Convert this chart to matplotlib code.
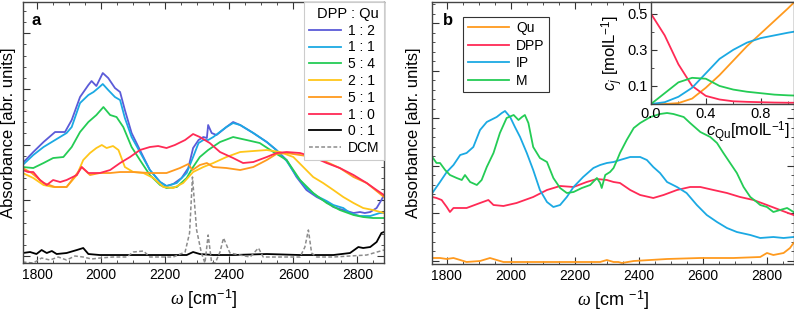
import matplotlib
matplotlib.use('Agg')
import matplotlib.pyplot as plt
import numpy as np
from matplotlib.ticker import MultipleLocator, FixedLocator, NullFormatter

plt.rcParams['font.family'] = ['Liberation Sans', 'DejaVu Sans']
plt.rcParams['mathtext.fontset'] = 'custom'
plt.rcParams['mathtext.rm'] = 'Liberation Sans'
plt.rcParams['mathtext.it'] = 'Liberation Serif:italic'
plt.rcParams['mathtext.sf'] = 'Liberation Sans:italic'

# ---- panel a: DPP : Qu mixtures (wavenumber, absorbance in arb. units) ----
w_12 = [1755, 1788, 1820, 1856, 1887, 1908, 1934, 1960, 1970, 1985, 2005, 2022, 2043, 2059, 2074, 2095, 2121,
        2152, 2184, 2204, 2225, 2251, 2272, 2287, 2304, 2319, 2330, 2334, 2345, 2360, 2391, 2412, 2434, 2475,
        2517, 2547, 2579, 2610, 2641, 2673, 2704, 2725, 2756, 2788, 2808, 2823, 2840, 2860, 2875, 2883]
a_12 = [1.00, 1.11, 1.21, 1.31, 1.31, 1.43, 1.66, 1.78, 1.82, 1.77, 1.90, 1.85, 1.75, 1.71, 1.53, 1.30, 1.13,
        0.93, 0.81, 0.77, 0.79, 0.85, 0.95, 1.15, 1.23, 1.26, 1.25, 1.38, 1.30, 1.28, 1.36, 1.41, 1.38, 1.30,
        1.21, 1.13, 1.03, 0.86, 0.73, 0.66, 0.61, 0.56, 0.53, 0.50, 0.51, 0.50, 0.51, 0.55, 0.63, 0.68]

w_11 = [1755, 1788, 1820, 1856, 1892, 1908, 1934, 1960, 1976, 1991, 2005, 2022, 2043, 2059, 2074, 2095, 2121,
        2152, 2184, 2204, 2236, 2267, 2287, 2304, 2319, 2334, 2350, 2391, 2412, 2434, 2475, 2517, 2547, 2579,
        2610, 2641, 2673, 2704, 2725, 2756, 2777, 2808, 2840, 2870, 2883]
a_11 = [0.98, 1.08, 1.16, 1.23, 1.30, 1.36, 1.60, 1.68, 1.71, 1.75, 1.79, 1.73, 1.66, 1.63, 1.45, 1.26, 1.11,
        0.93, 0.81, 0.77, 0.80, 0.90, 1.06, 1.20, 1.23, 1.23, 1.26, 1.36, 1.40, 1.38, 1.30, 1.21, 1.13, 1.02,
        0.87, 0.75, 0.67, 0.62, 0.58, 0.55, 0.50, 0.47, 0.47, 0.50, 0.50]

w_54 = [1755, 1788, 1820, 1850, 1882, 1908, 1934, 1960, 1985, 2007, 2028, 2048, 2069, 2095, 2121, 2152, 2184,
        2204, 2236, 2267, 2287, 2308, 2334, 2371, 2412, 2454, 2495, 2538, 2579, 2621, 2662, 2704, 2745, 2788,
        2818, 2849, 2883]
a_54 = [0.96, 0.95, 1.00, 1.05, 1.06, 1.16, 1.31, 1.41, 1.48, 1.56, 1.48, 1.46, 1.36, 1.16, 1.03, 0.88, 0.78,
        0.75, 0.76, 0.85, 0.96, 1.06, 1.13, 1.21, 1.26, 1.23, 1.20, 1.11, 1.03, 0.83, 0.70, 0.60, 0.53, 0.48,
        0.46, 0.45, 0.45]

w_21 = [1755, 1788, 1820, 1850, 1892, 1924, 1944, 1965, 1985, 2002, 2017, 2037, 2054, 2074, 2100, 2132, 2163,
        2194, 2225, 2256, 2287, 2319, 2350, 2391, 2434, 2475, 2517, 2558, 2600, 2631, 2662, 2693, 2725, 2756,
        2788, 2818, 2849, 2883]
a_21 = [0.90, 0.85, 0.78, 0.76, 0.76, 0.88, 1.03, 1.10, 1.15, 1.18, 1.15, 1.17, 1.13, 0.96, 0.91, 0.90, 0.85,
        0.76, 0.75, 0.80, 0.91, 0.96, 1.00, 1.06, 1.11, 1.12, 1.13, 1.11, 1.06, 0.96, 0.86, 0.80, 0.73, 0.66,
        0.60, 0.55, 0.53, 0.50]

w_51 = [1755, 1783, 1820, 1856, 1892, 1928, 1939, 1965, 1996, 2028, 2059, 2100, 2152, 2204, 2246, 2272, 2285,
        2308, 2330, 2350, 2391, 2434, 2475, 2517, 2547, 2579, 2621, 2662, 2704, 2745, 2788, 2829, 2883]
a_51 = [0.95, 0.90, 0.80, 0.76, 0.76, 0.91, 0.96, 0.88, 0.90, 0.90, 0.91, 0.91, 0.90, 0.90, 0.95, 0.99, 0.93,
        0.98, 1.00, 0.96, 0.95, 0.93, 0.96, 1.03, 1.09, 1.10, 1.08, 1.06, 1.01, 0.95, 0.86, 0.80, 0.66]

w_10 = [1755, 1772, 1788, 1809, 1830, 1850, 1872, 1892, 1924, 1939, 1960, 1996, 2028, 2059, 2090, 2121, 2152,
        2178, 2204, 2230, 2262, 2287, 2308, 2339, 2371, 2412, 2443, 2475, 2517, 2547, 2579, 2621, 2662, 2704,
        2745, 2788, 2829, 2860, 2883]
a_10 = [0.93, 0.91, 0.91, 0.83, 0.78, 0.83, 0.81, 0.83, 0.88, 0.96, 0.90, 0.90, 0.93, 1.00, 1.06, 1.13, 1.16,
        1.17, 1.15, 1.18, 1.23, 1.29, 1.26, 1.20, 1.11, 1.05, 1.00, 1.01, 1.06, 1.10, 1.11, 1.10, 1.06, 1.00,
        0.95, 0.88, 0.80, 0.73, 0.68]

w_01 = [1755, 1778, 1798, 1814, 1830, 1846, 1861, 1892, 1924, 1944, 1960, 1996, 2100, 2204, 2267, 2287, 2308,
        2350, 2412, 2517, 2621, 2725, 2777, 2803, 2818, 2840, 2860, 2875, 2883]
a_01 = [0.10, 0.11, 0.09, 0.13, 0.10, 0.12, 0.09, 0.10, 0.13, 0.15, 0.09, 0.08, 0.08, 0.08, 0.08, 0.11, 0.09,
        0.08, 0.08, 0.09, 0.08, 0.08, 0.10, 0.16, 0.15, 0.16, 0.21, 0.30, 0.31]

w_dcm = [1755, 1788, 1814, 1840, 1866, 1892, 1918, 1944, 1970, 1996, 2037, 2080, 2100, 2132, 2152, 2225, 2262,
         2276, 2285, 2298, 2313, 2324, 2334, 2345, 2356, 2371, 2382, 2402, 2465, 2491, 2506, 2621, 2636, 2647,
         2657, 2673, 2725, 2829, 2883]
a_dcm = [0.01, 0.00, 0.05, 0.03, 0.06, 0.03, 0.07, 0.06, 0.04, 0.05, 0.06, 0.06, 0.11, 0.12, 0.06, 0.06, 0.11,
         0.30, 0.86, 0.33, 0.10, 0.00, 0.28, 0.00, 0.00, 0.11, 0.25, 0.10, 0.06, 0.15, 0.06, 0.06, 0.16, 0.33,
         0.10, 0.06, 0.06, 0.08, 0.13]

# ---- panel b: decomposed component spectra ----
w_qu = [1755, 1779, 1800, 1821, 1842, 1862, 1904, 1935, 1956, 1977, 2070, 2175, 2279, 2300, 2321, 2336, 2347,
        2384, 2488, 2592, 2696, 2779, 2800, 2820, 2852, 2872, 2883]
a_qu = [0.06, 0.06, 0.05, 0.06, 0.04, 0.02, 0.03, 0.06, 0.04, 0.02, 0.02, 0.02, 0.02, 0.04, 0.02, 0.02, 0.01,
        0.03, 0.05, 0.06, 0.06, 0.07, 0.11, 0.09, 0.11, 0.16, 0.21]

w_dpp = [1755, 1768, 1784, 1800, 1810, 1821, 1842, 1862, 1904, 1930, 1946, 1977, 2018, 2070, 2113, 2154, 2196,
         2237, 2269, 2300, 2321, 2341, 2373, 2404, 2445, 2477, 2519, 2560, 2592, 2633, 2675, 2716, 2758, 2800,
         2841, 2883]
a_dpp = [0.67, 0.66, 0.64, 0.57, 0.52, 0.56, 0.56, 0.56, 0.61, 0.64, 0.59, 0.58, 0.61, 0.67, 0.74, 0.78, 0.77,
         0.82, 0.85, 0.84, 0.82, 0.81, 0.74, 0.69, 0.66, 0.69, 0.74, 0.77, 0.77, 0.74, 0.71, 0.67, 0.64, 0.59,
         0.54, 0.49]

w_ip = [1755, 1779, 1800, 1821, 1842, 1862, 1883, 1904, 1925, 1956, 1972, 1982, 1998, 2013, 2029, 2050, 2070,
        2091, 2113, 2133, 2154, 2175, 2196, 2226, 2258, 2279, 2300, 2321, 2341, 2373, 2404, 2425, 2445, 2466,
        2488, 2519, 2549, 2581, 2612, 2644, 2675, 2706, 2748, 2779, 2820, 2852, 2883]
a_ip = [0.71, 0.82, 0.92, 0.99, 1.09, 1.11, 1.17, 1.34, 1.42, 1.47, 1.51, 1.53, 1.47, 1.37, 1.27, 1.11, 0.94,
        0.74, 0.62, 0.57, 0.59, 0.67, 0.77, 0.87, 0.96, 0.99, 1.01, 1.02, 1.04, 1.07, 1.07, 1.04, 0.97, 0.91,
        0.82, 0.77, 0.71, 0.59, 0.49, 0.42, 0.36, 0.32, 0.29, 0.26, 0.27, 0.26, 0.27]

w_m = [1755, 1768, 1779, 1795, 1810, 1831, 1847, 1857, 1873, 1894, 1909, 1925, 1946, 1966, 1987, 2009, 2024,
       2035, 2044, 2055, 2070, 2091, 2113, 2133, 2154, 2175, 2196, 2222, 2248, 2269, 2279, 2284, 2295, 2310,
       2321, 2332, 2341, 2362, 2384, 2404, 2436, 2466, 2488, 2508, 2540, 2560, 2592, 2623, 2644, 2664, 2685,
       2706, 2727, 2748, 2768, 2779, 2800, 2820, 2841, 2863, 2883]
a_m = [1.07, 1.01, 1.01, 0.94, 0.89, 0.86, 0.84, 0.89, 0.82, 0.79, 0.84, 0.97, 1.11, 1.31, 1.46, 1.49, 1.44,
       1.47, 1.49, 1.41, 1.17, 1.06, 1.02, 0.86, 0.76, 0.71, 0.72, 0.76, 0.79, 0.86, 0.81, 0.76, 0.89, 0.92,
       0.96, 1.04, 1.11, 1.24, 1.36, 1.41, 1.47, 1.50, 1.51, 1.50, 1.47, 1.41, 1.32, 1.27, 1.21, 1.11, 1.01,
       0.91, 0.77, 0.67, 0.62, 0.59, 0.57, 0.52, 0.54, 0.56, 0.52]

# ---- inset: concentrations vs c_Qu ----
c_qu = [0.0, 0.1, 0.2, 0.3, 0.4, 0.5, 0.6, 0.7, 0.8, 0.9, 1.0, 1.04]
c_Qu = [0.0, 0.0, 0.005, 0.03, 0.09, 0.16, 0.24, 0.32, 0.39, 0.46, 0.53, 0.56]
c_DPP = [0.50, 0.38, 0.22, 0.10, 0.045, 0.025, 0.015, 0.012, 0.010, 0.008, 0.007, 0.007]
c_IP = [0.0, 0.01, 0.04, 0.09, 0.17, 0.25, 0.30, 0.34, 0.365, 0.38, 0.395, 0.40]
c_M = [0.0, 0.06, 0.12, 0.145, 0.14, 0.10, 0.08, 0.068, 0.06, 0.052, 0.048, 0.047]

ORANGE = '#ff9a1e'
RED = '#ff2a55'
CYAN = '#1ba9e3'
GREEN = '#24cc55'


def style_axis(ax, yticks, yminor, xlabel):
    ax.set_xlim(1755, 2883)
    ax.xaxis.set_major_locator(MultipleLocator(200))
    ax.xaxis.set_minor_locator(MultipleLocator(50))
    ax.yaxis.set_major_locator(FixedLocator(yticks))
    ax.yaxis.set_minor_locator(FixedLocator(yminor))
    ax.yaxis.set_major_formatter(NullFormatter())
    ax.tick_params(which='both', direction='in', top=True, right=True, labelsize=10, colors='#333333',
                   labelcolor='black')
    ax.tick_params(which='major', length=5)
    ax.tick_params(which='minor', length=2.5)
    for s in ax.spines.values():
        s.set_color('#444444')
        s.set_linewidth(1.0)
    ax.set_xlabel(xlabel, fontsize=13, labelpad=4)
    ax.set_ylabel('Absorbance [abr. units]', fontsize=12)


fig = plt.figure(figsize=(7.94, 3.17), dpi=100)

# panel a
ax1 = fig.add_axes([0.0286, 0.1703, 0.4550, 0.8233])
lw = 1.3
ax1.plot(w_12, a_12, color='#5b5bd8', lw=lw, label='1 : 2')
ax1.plot(w_11, a_11, color=CYAN, lw=lw, label='1 : 1')
ax1.plot(w_54, a_54, color=GREEN, lw=lw, label='5 : 4')
ax1.plot(w_21, a_21, color='#ffc61a', lw=lw, label='2 : 1')
ax1.plot(w_51, a_51, color=ORANGE, lw=lw, label='5 : 1')
ax1.plot(w_10, a_10, color=RED, lw=lw, label='1 : 0')
ax1.plot(w_01, a_01, color='black', lw=lw, label='0 : 1')
ax1.plot(w_dcm, a_dcm, color='#8c8c8c', lw=1.1, ls=(0, (2.5, 1.5)), label='DCM')
ax1.set_ylim(0, 2.61)
style_axis(ax1, 0.07 + 0.557 * np.arange(5), 0.07 + 0.1114 * np.arange(24), r'$\omega$ [cm$^{-1}$]')
ax1.yaxis.set_label_coords(-0.018, 0.5)
ax1.text(0.025, 0.93, 'a', transform=ax1.transAxes, fontsize=12, fontweight='bold', va='center')
leg1 = ax1.legend(loc='upper right', bbox_to_anchor=(1.0, 1.0), borderaxespad=0.0, fontsize=10,
                  title='DPP : Qu', title_fontsize=10.5, handlelength=2.3, handletextpad=0.5,
                  labelspacing=0.2, borderpad=0.35, fancybox=False, framealpha=1.0,
                  edgecolor='#cccccc', alignment='right')
leg1.get_frame().set_linewidth(0.8)

# panel b
ax2 = fig.add_axes([0.5445, 0.1672, 0.4549, 0.8265])
ax2.plot(w_qu, a_qu, color=ORANGE, lw=lw, label='Qu')
ax2.plot(w_dpp, a_dpp, color=RED, lw=lw, label='DPP')
ax2.plot(w_ip, a_ip, color=CYAN, lw=lw, label='IP')
ax2.plot(w_m, a_m, color=GREEN, lw=lw, label='M')
ax2.set_ylim(0, 2.62)
style_axis(ax2, 0.03 + 0.475 * np.arange(6), 0.03 + 0.095 * np.arange(28), r'$\omega$ [cm $^{-1}$]')
ax2.yaxis.set_label_coords(-0.032, 0.5)
ax2.text(0.03, 0.93, 'b', transform=ax2.transAxes, fontsize=12, fontweight='bold', va='center')
leg2 = ax2.legend(loc='upper left', bbox_to_anchor=(0.086, 0.943), borderaxespad=0.0, fontsize=10,
                  handlelength=3.0, handletextpad=0.5, labelspacing=0.25, borderpad=0.3,
                  fancybox=False, framealpha=1.0, edgecolor='#333333')
leg2.get_frame().set_linewidth(0.8)

# inset
ax3 = fig.add_axes([0.8199, 0.6719, 0.1795, 0.3218])
ax3.plot(c_qu, c_Qu, color=ORANGE, lw=1.3)
ax3.plot(c_qu, c_DPP, color=RED, lw=1.3)
ax3.plot(c_qu, c_IP, color=CYAN, lw=1.3)
ax3.plot(c_qu, c_M, color=GREEN, lw=1.3)
ax3.set_xlim(0, 1.04)
ax3.set_ylim(0, 0.565)
ax3.set_xticks([0.0, 0.4, 0.8])
ax3.set_xticks([0.2, 0.6, 1.0], minor=True)
ax3.set_yticks([0.1, 0.3, 0.5])
ax3.set_yticks([0.2, 0.4], minor=True)
ax3.tick_params(which='both', direction='in', labelsize=10.5, colors='#333333', labelcolor='black', pad=2)
ax3.tick_params(which='major', length=4)
ax3.tick_params(which='minor', length=2)
for s in ax3.spines.values():
    s.set_color('#444444')
    s.set_linewidth(1.0)
ax3.set_facecolor('white')
ax3.set_ylabel(r'$\mathsf{c}_{\mathsf{j}}$ [molL$^{-1}$]', fontsize=12, labelpad=2)
ax3.set_xlabel(r'$\mathsf{c}_{\mathrm{Qu}}$[molL$^{-1}$]', fontsize=12, labelpad=0)
ax3.xaxis.set_label_coords(0.68, -0.15)

fig.savefig('out.png', dpi=100)
